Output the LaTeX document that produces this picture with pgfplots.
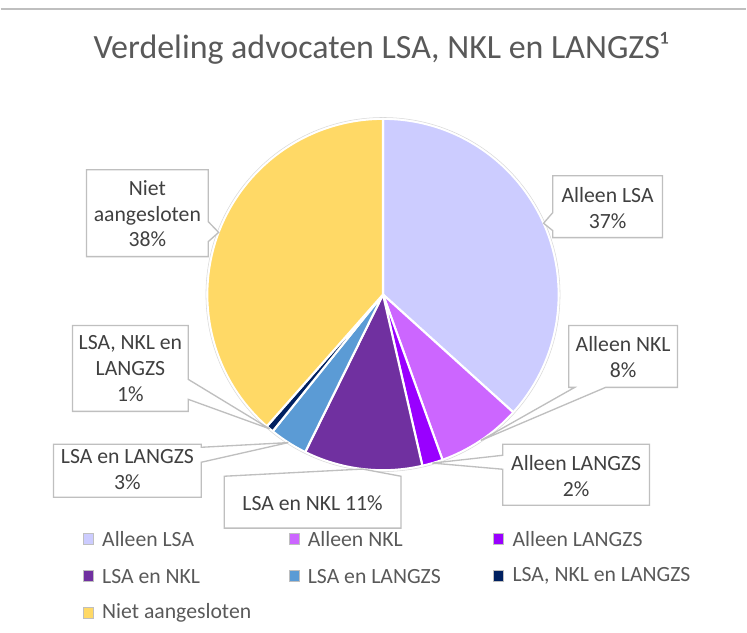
\documentclass[border=0pt]{standalone}
\usepackage{pgfplots}
\pgfplotsset{compat=1.18}
\usepackage{pgfplotstable}
\usepackage{fontspec}
\setmainfont{Carlito}
\definecolor{c0}{HTML}{CCCCFF}
\definecolor{c1}{HTML}{CC66FF}
\definecolor{c2}{HTML}{9900FF}
\definecolor{c3}{HTML}{7030A0}
\definecolor{c4}{HTML}{5B9BD5}
\definecolor{c5}{HTML}{002060}
\definecolor{c6}{HTML}{FFD966}
\definecolor{txt}{HTML}{595959}
\definecolor{lbl}{HTML}{404040}
\definecolor{bord}{HTML}{BFBFBF}

\pgfplotstableread{
value
36.7
7.8
1.9
10.9
3.5
0.7
38.5
}\piedata

\begin{document}
\begin{tikzpicture}
\begin{axis}[
  x=0.75pt, y=0.75pt,
  xmin=0, xmax=747, ymin=0, ymax=634,
  y dir=reverse,
  hide axis, clip=false,
]
\path (axis cs:0,0) rectangle (axis cs:747,634);
\draw[bord, line width=0.9pt] (axis cs:0,9) -- (axis cs:747,9);
% title
\node[font=\fontsize{25.5}{30}\selectfont, text=txt] at (axis cs:381,48) {Verdeling advocaten LSA, NKL en LANGZS¹};
% pie
\pgfplotsextra{
  \gdef\cum{0}
  \foreach \i in {0,...,6}{
    \pgfplotstablegetelem{\i}{value}\of\piedata
    \let\v\pgfplotsretval
    \pgfmathsetmacro\a{90-3.6*\cum}
    \pgfmathsetmacro\b{90-3.6*(\cum+\v)}
    \pgfmathsetmacro\m{(\a+\b)/2}
    \fill[c\i, draw=white, line width=1.6pt, line join=round] (axis cs:383,295) -- ++(\a:132pt) arc[start angle=\a, end angle=\b, radius=132pt] -- cycle;
    \path (axis cs:383,295) ++(\m:132pt) coordinate (tip\i);
    \pgfmathsetmacro\newcum{\cum+\v}
    \xdef\cum{\newcum}
  }
  \draw[black!15, line width=0.4pt] (axis cs:383,295) circle[radius=133pt];
}
% callouts
\tikzset{cbox/.style={fill=white, draw=bord, line width=1pt, line join=miter},
         lab/.style={text=lbl, font=\fontsize{16.3}{19.5}\selectfont, align=center}}
\filldraw[cbox] (axis cs:553,176) -- (axis cs:663,176) -- (axis cs:663,238) -- (axis cs:553,238) -- (axis cs:553,231) -- (tip0) -- (axis cs:553,213) -- cycle;
\node[lab] at (axis cs:608,208) {Alleen LSA\\37\%};
\filldraw[cbox] (axis cs:569,326) -- (axis cs:678,326) -- (axis cs:678,388) -- (axis cs:606,388) -- (tip1) -- (axis cs:575,388) -- (axis cs:569,388) -- cycle;
\node[lab] at (axis cs:623.5,358) {Alleen NKL\\8\%};
\filldraw[cbox] (axis cs:503,445) -- (axis cs:650,445) -- (axis cs:650,506) -- (axis cs:503,506) -- (axis cs:503,470) -- (tip2) -- (axis cs:503,456) -- cycle;
\node[lab] at (axis cs:576.5,477) {Alleen LANGZS\\2\%};
\filldraw[cbox] (axis cs:224,477) -- (tip3) -- (axis cs:401,477) -- (axis cs:401,529) -- (axis cs:224,529) -- cycle;
\node[lab] at (axis cs:312.5,504) {LSA en NKL 11\%};
\filldraw[cbox] (axis cs:53,445) -- (axis cs:201,445) -- (axis cs:201,448) -- (tip4) -- (axis cs:201,463) -- (axis cs:201,498) -- (axis cs:53,498) -- cycle;
\node[lab] at (axis cs:127,470) {LSA en LANGZS\\3\%};
\filldraw[cbox] (axis cs:72,326) -- (axis cs:188,326) -- (axis cs:188,380) -- (tip5) -- (axis cs:188,400) -- (axis cs:188,412) -- (axis cs:72,412) -- cycle;
\node[lab] at (axis cs:130,369) {LSA, NKL en\\LANGZS\\1\%};
\filldraw[cbox] (axis cs:86,170) -- (axis cs:208,170) -- (axis cs:208,222) -- (tip6) -- (axis cs:208,242) -- (axis cs:208,257) -- (axis cs:86,257) -- cycle;
\node[lab] at (axis cs:147,214) {Niet\\aangesloten\\38\%};
% legend
\pgfplotsextra{
\tikzset{lsq/.style={draw=bord, line width=0.6pt},
         ltx/.style={anchor=west, text=txt, font=\fontsize{16.3}{19.5}\selectfont, inner sep=0pt}}
\foreach \cc/\xx/\yy/\tt in {c0/88/540/Alleen LSA, c1/294/540/Alleen NKL, c2/499/540/Alleen LANGZS,
                         c3/88/577/LSA en NKL, c4/294/577/LSA en LANGZS, c5/499/577/{LSA, NKL en LANGZS},
                         c6/88/614/Niet aangesloten}{
  \pgfmathsetmacro\xa{\xx-5}\pgfmathsetmacro\xb{\xx+5}
  \pgfmathsetmacro\ya{\yy-5.5}\pgfmathsetmacro\yb{\yy+5.5}
  \pgfmathsetmacro\xt{\xx+13.5}
  \filldraw[lsq, fill=\cc] (axis cs:\xa,\ya) rectangle (axis cs:\xb,\yb);
  \node[ltx] at (axis cs:\xt,\yy) {\tt};
}
}
\end{axis}
\end{tikzpicture}
\end{document}
